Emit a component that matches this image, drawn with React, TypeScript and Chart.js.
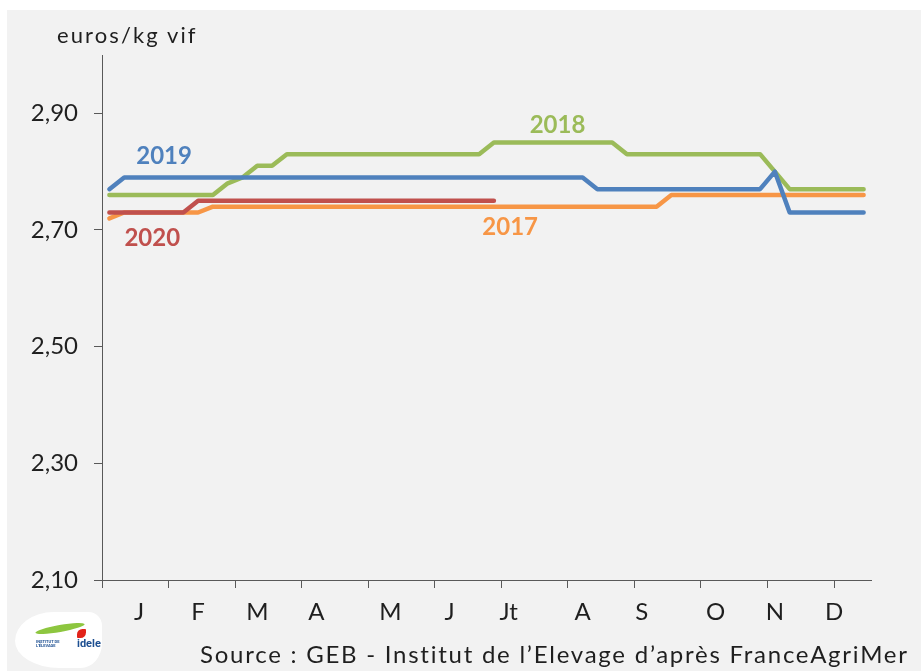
import React, { useEffect, useRef } from 'react';
import { Chart, registerables } from 'chart.js';

Chart.register(...registerables);

// ---- data ----
const weeks = [
  1, 2, 3, 4, 5, 6, 7, 8, 9, 10, 11, 12, 13,
  14, 15, 16, 17, 18, 19, 20, 21, 22, 23, 24, 25, 26,
  27, 28, 29, 30, 31, 32, 33, 34, 35, 36, 37, 38, 39,
  40, 41, 42, 43, 44, 45, 46, 47, 48, 49, 50, 51, 52,
];

const prices2017 = [
  2.72, 2.73, 2.73, 2.73, 2.73, 2.73, 2.73, 2.74, 2.74, 2.74, 2.74, 2.74, 2.74,
  2.74, 2.74, 2.74, 2.74, 2.74, 2.74, 2.74, 2.74, 2.74, 2.74, 2.74, 2.74, 2.74,
  2.74, 2.74, 2.74, 2.74, 2.74, 2.74, 2.74, 2.74, 2.74, 2.74, 2.74, 2.74, 2.76,
  2.76, 2.76, 2.76, 2.76, 2.76, 2.76, 2.76, 2.76, 2.76, 2.76, 2.76, 2.76, 2.76,
];

const prices2018 = [
  2.76, 2.76, 2.76, 2.76, 2.76, 2.76, 2.76, 2.76, 2.78, 2.79, 2.81, 2.81, 2.83,
  2.83, 2.83, 2.83, 2.83, 2.83, 2.83, 2.83, 2.83, 2.83, 2.83, 2.83, 2.83, 2.83,
  2.85, 2.85, 2.85, 2.85, 2.85, 2.85, 2.85, 2.85, 2.85, 2.83, 2.83, 2.83, 2.83,
  2.83, 2.83, 2.83, 2.83, 2.83, 2.83, 2.80, 2.77, 2.77, 2.77, 2.77, 2.77, 2.77,
];

const prices2019 = [
  2.77, 2.79, 2.79, 2.79, 2.79, 2.79, 2.79, 2.79, 2.79, 2.79, 2.79, 2.79, 2.79,
  2.79, 2.79, 2.79, 2.79, 2.79, 2.79, 2.79, 2.79, 2.79, 2.79, 2.79, 2.79, 2.79,
  2.79, 2.79, 2.79, 2.79, 2.79, 2.79, 2.79, 2.77, 2.77, 2.77, 2.77, 2.77, 2.77,
  2.77, 2.77, 2.77, 2.77, 2.77, 2.77, 2.80, 2.73, 2.73, 2.73, 2.73, 2.73, 2.73,
];

const prices2020 = [
  2.73, 2.73, 2.73, 2.73, 2.73, 2.73, 2.75, 2.75, 2.75, 2.75, 2.75, 2.75, 2.75,
  2.75, 2.75, 2.75, 2.75, 2.75, 2.75, 2.75, 2.75, 2.75, 2.75, 2.75, 2.75, 2.75,
  2.75,
];

const seriesNames = ['2020', '2019', '2018', '2017'];
const seriesColors = ['#c0504d', '#4f81bd', '#9bbb59', '#f79646'];
const seriesValues = [prices2020, prices2019, prices2018, prices2017];

// where each series name is written (week, euros/kg)
const nameLabelWeeks = [3.9, 4.7, 31.3, 28.1];
const nameLabelValues = [2.685, 2.826, 2.88, 2.705];

const yTickValues = [2.1, 2.3, 2.5, 2.7, 2.9];
const monthLabels = ['J', 'F', 'M', 'A', 'M', 'J', 'Jt', 'A', 'S', 'O', 'N', 'D'];
const monthLabelWeeks = [3, 7, 11, 15, 20, 24, 28, 33, 37, 42, 46, 50];
const monthTickWeeks = [0.5, 5, 9.5, 14, 18.5, 23, 27.5, 32, 36.5, 41, 45.5, 50];

const yTitle = 'euros/kg vif';
const sourceText = 'Source : GEB - Institut de l\u2019Elevage d\u2019apr\u00e8s FranceAgriMer';

const FONT = 'Lato, "Open Sans", sans-serif';
const axisColor = '#595959';
const textColor = '#1f1f1f';

const seriesNamePlugin = {
  id: 'seriesNames',
  afterDatasetsDraw(chart: any) {
    const { ctx, scales } = chart;
    ctx.save();
    ctx.font = 'bold 24px ' + FONT;
    ctx.textAlign = 'center';
    ctx.textBaseline = 'middle';
    seriesNames.forEach((name, i) => {
      ctx.fillStyle = seriesColors[i];
      ctx.fillText(
        name,
        scales.x.getPixelForValue(nameLabelWeeks[i]),
        scales.y.getPixelForValue(nameLabelValues[i])
      );
    });
    ctx.restore();
  },
};

export default function App() {
  const canvasRef = useRef<HTMLCanvasElement | null>(null);

  useEffect(() => {
    const canvas = canvasRef.current;
    if (!canvas) return;
    const chart = new Chart(canvas, {
      type: 'line',
      data: {
        datasets: seriesValues.map((vals, i) => ({
          label: seriesNames[i],
          data: vals.map((v, k) => ({ x: weeks[k], y: v })),
          borderColor: seriesColors[i],
          backgroundColor: seriesColors[i],
          borderWidth: 4.5,
          borderCapStyle: 'round',
          borderJoinStyle: 'round',
          pointRadius: 0,
          pointHoverRadius: 0,
          tension: 0,
          fill: false,
          xAxisID: 'x',
          yAxisID: 'y',
        })),
      },
      options: {
        animation: false,
        responsive: false,
        maintainAspectRatio: false,
        events: [],
        layout: { padding: { top: 45, right: 50, bottom: 43, left: 0 } },
        plugins: {
          legend: { display: false },
          tooltip: { enabled: false },
          title: { display: false },
        },
        scales: {
          x: {
            type: 'linear',
            position: 'bottom',
            min: 0.5,
            max: 52.5,
            afterBuildTicks: (s: any) => {
              s.ticks = monthTickWeeks.map((v) => ({ value: v }));
            },
            afterFit: (s: any) => {
              s.height = 8;
            },
            ticks: { display: false },
            grid: {
              display: true,
              drawOnChartArea: false,
              drawTicks: true,
              tickLength: 8,
              color: axisColor,
              lineWidth: 1,
            },
            border: { display: true, color: axisColor, width: 1 },
          },
          xMonths: {
            type: 'linear',
            axis: 'x',
            position: 'bottom',
            weight: 1,
            min: 0.5,
            max: 52.5,
            afterBuildTicks: (s: any) => {
              s.ticks = monthLabelWeeks.map((v) => ({ value: v }));
            },
            afterFit: (s: any) => {
              s.height = 40;
            },
            ticks: {
              autoSkip: false,
              maxRotation: 0,
              minRotation: 0,
              padding: 10,
              color: textColor,
              font: { family: FONT, size: 24 },
              callback: (_v: any, i: number) => monthLabels[i],
            },
            grid: { display: false, drawTicks: false },
            border: { display: false },
          },
          y: {
            type: 'linear',
            position: 'left',
            min: 2.1,
            max: 3.0,
            afterBuildTicks: (s: any) => {
              s.ticks = yTickValues.map((v) => ({ value: v }));
            },
            afterFit: (s: any) => {
              s.width = 95;
            },
            ticks: {
              padding: 16,
              color: textColor,
              font: { family: FONT, size: 24 },
              callback: (v: any) => Number(v).toFixed(2).replace('.', ','),
            },
            grid: {
              display: true,
              drawOnChartArea: false,
              drawTicks: true,
              tickLength: 8,
              color: axisColor,
              lineWidth: 1,
            },
            border: { display: true, color: axisColor, width: 1 },
          },
        },
      } as any,
      plugins: [seriesNamePlugin],
    });
    return () => chart.destroy();
  }, []);

  return (
    <div
      style={{
        position: 'fixed',
        left: 0,
        top: 0,
        width: 921,
        height: 671,
        background: '#ffffff',
        overflow: 'hidden',
        fontFamily: FONT,
      }}
    >
      <div
        style={{
          position: 'absolute',
          left: 7,
          top: 10,
          width: 914,
          height: 661,
          background: '#f2f2f2',
        }}
      >
        <canvas ref={canvasRef} width={914} height={661} style={{ display: 'block' }} />
      </div>
      <div
        style={{
          position: 'absolute',
          left: 57,
          top: 24,
          fontSize: 22,
          lineHeight: '22px',
          letterSpacing: 2.1,
          color: textColor,
          whiteSpace: 'nowrap',
        }}
      >
        {yTitle}
      </div>
      <div
        style={{
          position: 'absolute',
          left: 200,
          top: 642,
          fontSize: 24,
          lineHeight: '24px',
          letterSpacing: 1.75,
          color: textColor,
          whiteSpace: 'nowrap',
        }}
      >
        {sourceText}
      </div>
      {/* logo */}
      <div
        style={{
          position: 'absolute',
          left: 15,
          top: 612,
          width: 87,
          height: 56,
          background: '#ffffff',
          borderRadius: '40px 14px 22px 46px / 30px 14px 26px 28px',
        }}
      >
        <div
          style={{
            position: 'absolute',
            left: 20,
            top: 13,
            width: 50,
            height: 7,
            background: '#8dc63f',
            borderRadius: '50%',
            transform: 'rotate(-10deg)',
          }}
        />
        <div
          style={{
            position: 'absolute',
            left: 62,
            top: 17,
            width: 9,
            height: 9,
            background: '#e2231a',
            borderRadius: '60% 10% 60% 10%',
          }}
        />
        <div
          style={{
            position: 'absolute',
            left: 21,
            top: 28,
            fontSize: 4,
            lineHeight: '4px',
            fontWeight: 700,
            color: '#1d4f91',
            fontFamily: 'Roboto, sans-serif',
          }}
        >
          INSTITUT DE
          <br />
          L'ÉLEVAGE
        </div>
        <div
          style={{
            position: 'absolute',
            left: 62,
            top: 26,
            fontSize: 11,
            lineHeight: '11px',
            fontWeight: 700,
            color: '#1d4f91',
            fontFamily: 'Roboto, sans-serif',
          }}
        >
          idele
        </div>
      </div>
    </div>
  );
}
